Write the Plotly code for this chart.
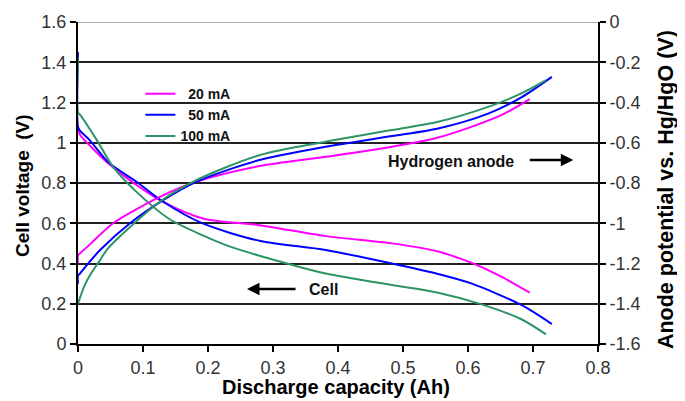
import plotly.graph_objects as go

# ---- data ----
cap_cell_20 = [0, 0.003, 0.02, 0.044, 0.09, 0.126, 0.192, 0.279, 0.381, 0.483, 0.554, 0.585, 0.605, 0.646, 0.695]
volt_cell_20 = [1.07, 1.04, 0.98, 0.905, 0.79, 0.715, 0.624, 0.590, 0.536, 0.500, 0.460, 0.428, 0.404, 0.343, 0.255]

cap_cell_50 = [0, 0, 0.003, 0.018, 0.046, 0.09, 0.131, 0.192, 0.279, 0.381, 0.483, 0.554, 0.605, 0.682, 0.729]
volt_cell_50 = [1.45, 1.08, 1.06, 1.013, 0.905, 0.806, 0.707, 0.599, 0.513, 0.467, 0.400, 0.348, 0.301, 0.194, 0.099]

cap_cell_100 = [0, 0, 0.003, 0.029, 0.054, 0.09, 0.141, 0.192, 0.233, 0.294, 0.381, 0.483, 0.554, 0.621, 0.682, 0.72]
volt_cell_100 = [1.42, 1.15, 1.14, 1.013, 0.88, 0.756, 0.620, 0.540, 0.485, 0.425, 0.350, 0.293, 0.255, 0.197, 0.123, 0.048]

cap_an_20 = [0, 0, 0.003, 0.02, 0.054, 0.126, 0.182, 0.279, 0.381, 0.483, 0.554, 0.605, 0.656, 0.695]
pot_an_20 = [-1.20, -1.16, -1.15, -1.10, -1.00, -0.869, -0.794, -0.716, -0.670, -0.620, -0.574, -0.521, -0.455, -0.383]

cap_an_50 = [0, 0, 0.003, 0.018, 0.034, 0.08, 0.131, 0.182, 0.279, 0.381, 0.483, 0.554, 0.631, 0.682, 0.729]
pot_an_50 = [-1.30, -1.26, -1.25, -1.191, -1.133, -1.00, -0.885, -0.794, -0.686, -0.620, -0.567, -0.529, -0.455, -0.375, -0.273]

cap_an_100 = [0, 0.01, 0.02, 0.034, 0.044, 0.075, 0.126, 0.182, 0.279, 0.381, 0.483, 0.554, 0.631, 0.682, 0.72]
pot_an_100 = [-1.40, -1.31, -1.25, -1.183, -1.133, -1.034, -0.893, -0.786, -0.662, -0.595, -0.537, -0.496, -0.422, -0.355, -0.289]

series_names = ["\u200720 mA", "\u200750 mA", "100 mA"]
colors = ["#FF00FF", "#0000FF", "#2E9464"]

x_ticks = [0, 0.1, 0.2, 0.3, 0.4, 0.5, 0.6, 0.7, 0.8]
x_ticklabels = ["0", "0.1", "0.2", "0.3", "0.4", "0.5", "0.6", "0.7", "0.8"]
left_ticks = [0, 0.2, 0.4, 0.6, 0.8, 1.0, 1.2, 1.4, 1.6]
left_ticklabels = ["0", "0.2", "0.4", "0.6", "0.8", "1", "1.2", "1.4", "1.6"]
right_ticks = [0, -0.2, -0.4, -0.6, -0.8, -1.0, -1.2, -1.4, -1.6]
right_ticklabels = ["0", "-0.2", "-0.4", "-0.6", "-0.8", "-1", "-1.2", "-1.4", "-1.6"]

x_title = "Discharge capacity (Ah)"
y_title = "Cell voltage\u00a0\u00a0(V)"
y2_title = "Anode potential vs. Hg/HgO (V)"

FONT = "Liberation Sans, Arial, sans-serif"

fig = go.Figure()

cells = [(cap_cell_20, volt_cell_20), (cap_cell_50, volt_cell_50), (cap_cell_100, volt_cell_100)]
anodes = [(cap_an_20, pot_an_20), (cap_an_50, pot_an_50), (cap_an_100, pot_an_100)]

for (cx, cy), name, col in zip(cells, series_names, colors):
    fig.add_trace(go.Scatter(x=cx, y=cy, mode="lines", name="<b>" + name + "</b>",
                             line=dict(color=col, width=2, shape="spline", smoothing=0.8),
                             legendgroup=name, showlegend=True))
for (ax_, ay_), name, col in zip(anodes, series_names, colors):
    fig.add_trace(go.Scatter(x=ax_, y=ay_, mode="lines", name=name, yaxis="y2",
                             line=dict(color=col, width=2, shape="spline", smoothing=0.8),
                             legendgroup=name, showlegend=False))

axis_font = dict(family=FONT, size=18, color="#333")

fig.update_layout(
    width=677, height=393,
    margin=dict(l=70, r=87, t=14, b=57, autoexpand=False),
    paper_bgcolor="white", plot_bgcolor="white",
    font=dict(family=FONT, color="#000"),
    xaxis=dict(range=[0, 0.8], tickvals=x_ticks, ticktext=x_ticklabels, automargin=False,
               showgrid=False, zeroline=False, showline=True, linecolor="#000", linewidth=2,
               ticks="outside", ticklen=6, tickwidth=1.5, tickcolor="#000", tickfont=axis_font),
    yaxis=dict(range=[0, 1.6], tickvals=left_ticks, ticktext=left_ticklabels, automargin=False,
               showgrid=True, gridcolor="#222", gridwidth=1.5, zeroline=False,
               showline=True, linecolor="#000", linewidth=2,
               ticks="outside", ticklen=6, tickwidth=1.5, tickcolor="#000", tickfont=axis_font),
    yaxis2=dict(range=[-1.6, 0], overlaying="y", side="right", tickvals=right_ticks, ticktext=right_ticklabels,
                automargin=False,
                showgrid=False, zeroline=False, showline=True, linecolor="#000", linewidth=2,
                ticks="outside", ticklen=6, tickwidth=1.5, tickcolor="#000", tickfont=axis_font),
    legend=dict(x=0.12, y=0.826, xanchor="left", yanchor="top", bgcolor="rgba(0,0,0,0)",
                font=dict(family=FONT, size=14, color="#111"), tracegroupgap=0, itemwidth=30),
    showlegend=True,
)

# light top border line at 1.6
fig.add_shape(type="line", xref="paper", yref="y", x0=0, x1=1, y0=1.6, y1=1.6,
              line=dict(color="#999", width=1.5))

# axis titles
fig.add_annotation(x=0.496, y=-0.135, xref="paper", yref="paper", text="<b>" + x_title + "</b>",
                   showarrow=False, xanchor="center", yanchor="middle",
                   font=dict(family=FONT, size=20, color="#000"))
fig.add_annotation(x=-0.1058, y=0.494, xref="paper", yref="paper", text="<b>" + y_title + "</b>",
                   showarrow=False, textangle=-90, xanchor="center", yanchor="middle",
                   font=dict(family=FONT, size=19, color="#000"))
fig.add_annotation(x=1.1308, y=0.478, xref="paper", yref="paper", text="<b>" + y2_title + "</b>",
                   showarrow=False, textangle=-90, xanchor="center", yanchor="middle",
                   font=dict(family=FONT, size=21.5, color="#000"))

# annotations: arrows and labels
fig.add_annotation(x=0.762, y=0.914, xref="x", yref="y", ax=-45, ay=0, axref="pixel", ayref="pixel",
                   text="", showarrow=True, arrowhead=2, arrowsize=1, arrowwidth=2.5, arrowcolor="#000")
fig.add_annotation(x=0.574, y=0.905, xref="x", yref="y", text="<b>Hydrogen anode</b>", showarrow=False,
                   font=dict(family=FONT, size=16, color="#111"))
fig.add_annotation(x=0.26, y=0.273, xref="x", yref="y", ax=50, ay=0, axref="pixel", ayref="pixel",
                   text="", showarrow=True, arrowhead=2, arrowsize=1, arrowwidth=2.5, arrowcolor="#000")
fig.add_annotation(x=0.378, y=0.273, xref="x", yref="y", text="<b>Cell</b>", showarrow=False,
                   font=dict(family=FONT, size=16, color="#111"))

fig.write_html("out.html")
